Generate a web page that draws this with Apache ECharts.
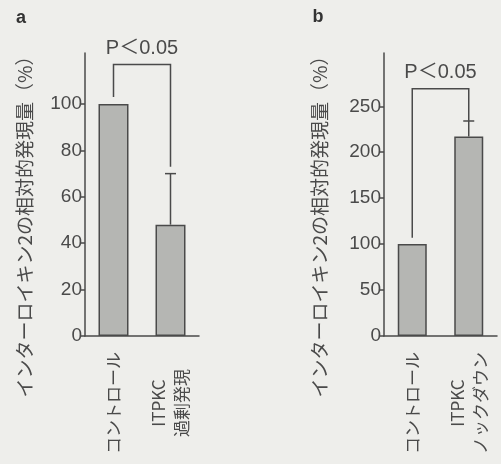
<!DOCTYPE html>
<html>
<head>
<meta charset="utf-8">
<script src="https://cdn.jsdelivr.net/npm/echarts@6/dist/echarts.min.js"></script>
<style>
html,body{margin:0;padding:0;background:#eeeeeb;}
#c{width:501px;height:464px;}
</style>
</head>
<body>
<div id="c"></div>
<script>
// ---- data ----
const panelLabels = ['a', 'b'];
const yTitle = 'インターロイキン2の相対的発現量（%）';
const catsA = ['コントロール', 'ITPKC\n過剰発現'];
const valuesA = [100, 48];
const errTopA = [null, 70];
const ticksA = [0, 20, 40, 60, 80, 100];
const maxA = 122;
const bracketA = [0, 1, 117, 103, 73]; // from cat, to cat, top, left end, right end

const catsB = ['コントロール', 'ITPKC\nノックダウン'];
const valuesB = [100, 217];
const errTopB = [null, 234];
const ticksB = [0, 50, 100, 150, 200, 250];
const maxB = 308;
const bracketB = [0, 1, 269, 107, 234];
const sigText = 'P＜0.05';

// ---- style ----
const ink = '#4a4a4a';
const barFill = '#b5b6b3';
const latin = '"Liberation Sans", "Noto Sans CJK JP", sans-serif';
const cjk = '"Noto Sans CJK JP", sans-serif';

const chart = echarts.init(document.getElementById('c'), null, {renderer: 'canvas'});

function xAxisFor(idx, cats) {
  return {
    type: 'category', gridIndex: idx, data: cats,
    axisLine: {lineStyle: {color: ink, width: 1.5}},
    axisTick: {inside: true, length: 5, lineStyle: {color: ink, width: 1.5}},
    axisLabel: {
      interval: 0, rotate: 90, align: 'center', verticalAlign: 'middle',
      margin: 67, color: ink, fontFamily: cjk, fontSize: 17, lineHeight: 23
    },
    splitLine: {show: false}
  };
}
function yAxisFor(idx, max, ticks) {
  return {
    type: 'value', gridIndex: idx, min: 0, max: max,
    axisLine: {show: true, lineStyle: {color: ink, width: 1.5}},
    axisTick: {show: true, length: 4, customValues: ticks, lineStyle: {color: ink, width: 1.5}},
    axisLabel: {customValues: ticks, margin: 3, color: ink, fontFamily: latin, fontSize: 19},
    splitLine: {show: false}
  };
}
function errSeries(idx, vals, tops) {
  const data = [];
  vals.forEach((v, i) => { if (tops[i] != null) data.push([i, v, tops[i]]); });
  return {
    type: 'custom', xAxisIndex: idx, yAxisIndex: idx, data: data, z: 5,
    renderItem: function (params, api) {
      const lo = api.coord([api.value(0), api.value(1)]);
      const hi = api.coord([api.value(0), api.value(2)]);
      const w = 5.5;
      const st = {stroke: ink, lineWidth: 1.5};
      return {type: 'group', children: [
        {type: 'line', shape: {x1: lo[0], y1: lo[1], x2: hi[0], y2: hi[1]}, style: st},
        {type: 'line', shape: {x1: hi[0] - w, y1: hi[1], x2: hi[0] + w, y2: hi[1]}, style: st}
      ]};
    }
  };
}
function bracketSeries(idx, b) {
  return {
    type: 'custom', xAxisIndex: idx, yAxisIndex: idx, data: [b], z: 6,
    renderItem: function (params, api) {
      const pL = api.coord([api.value(0), api.value(3)]);
      const tL = api.coord([api.value(0), api.value(2)]);
      const tR = api.coord([api.value(1), api.value(2)]);
      const pR = api.coord([api.value(1), api.value(4)]);
      return {type: 'group', children: [
        {type: 'polyline', shape: {points: [pL, tL, tR, pR]}, style: {stroke: ink, lineWidth: 1.5, fill: null}},
        {type: 'text', x: (tL[0] + tR[0]) / 2, y: tL[1] - 6,
         style: {text: sigText, fill: ink, font: '20px ' + latin, align: 'center', verticalAlign: 'bottom'}}
      ]};
    }
  };
}

const option = {
  backgroundColor: '#eeeeeb',
  animation: false,
  grid: [
    {left: 85, top: 53, width: 114, height: 283},
    {left: 384, top: 53, width: 113, height: 283}
  ],
  xAxis: [xAxisFor(0, catsA), xAxisFor(1, catsB)],
  yAxis: [yAxisFor(0, maxA, ticksA), yAxisFor(1, maxB, ticksB)],
  series: [
    {type: 'bar', xAxisIndex: 0, yAxisIndex: 0, data: valuesA, barWidth: 30,
     itemStyle: {color: barFill, borderColor: ink, borderWidth: 1.5}},
    {type: 'bar', xAxisIndex: 1, yAxisIndex: 1, data: valuesB, barWidth: 29,
     itemStyle: {color: barFill, borderColor: ink, borderWidth: 1.5}},
    errSeries(0, valuesA, errTopA),
    errSeries(1, valuesB, errTopB),
    bracketSeries(0, bracketA),
    bracketSeries(1, bracketB)
  ],
  graphic: [
    {type: 'text', x: 21, y: 18, style: {text: panelLabels[0], font: 'bold 18px ' + latin, fill: '#333', align: 'center', verticalAlign: 'middle'}},
    {type: 'text', x: 318, y: 17, style: {text: panelLabels[1], font: 'bold 18px ' + latin, fill: '#333', align: 'center', verticalAlign: 'middle'}},
    {type: 'text', x: 25, y: 222, rotation: Math.PI / 2,
     style: {text: yTitle, font: '19px ' + cjk, fill: ink, align: 'center', verticalAlign: 'middle'}},
    {type: 'text', x: 320, y: 222, rotation: Math.PI / 2,
     style: {text: yTitle, font: '19px ' + cjk, fill: ink, align: 'center', verticalAlign: 'middle'}}
  ]
};
chart.setOption(option);
</script>
</body>
</html>
